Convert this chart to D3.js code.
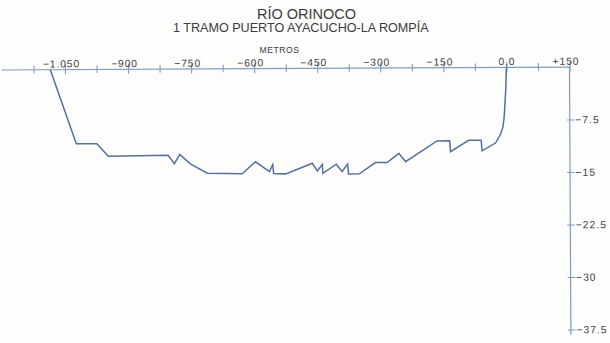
<!DOCTYPE html>
<html>
<head>
<meta charset="utf-8">
<script src="https://cdn.jsdelivr.net/npm/d3@7"></script>
<style>
  html, body { margin: 0; padding: 0; background: #fdfdfc; }
  svg { display: block; }
  text { font-family: "Liberation Sans", Arial, sans-serif; fill: #3b3b3b; }
</style>
</head>
<body>
<svg id="chart" width="610" height="343"></svg>
<script>
// Cross-section of the river bed: distance from the right bank (m) and depth (m)
const distance = [-1085, -1024, -975, -948, -806, -791, -778, -753, -713, -630,
  -598, -565, -557, -555, -526, -463, -451, -439, -438, -406,
  -392, -379, -377, -351, -313, -285, -257, -241, -166, -136,
  -134, -91, -61, -59, -27, -16, -9, -6, -2, 0];
const depth = [0, -10.6, -10.6, -12.4, -12.3, -13.5, -12.2, -13.55, -14.9, -15,
  -13.3, -14.7, -13.7, -15, -15.05, -13.55, -14.65, -13.7, -15, -13.7,
  -14.75, -13.7, -15.1, -15.1, -13.5, -13.5, -12.2, -13.4, -10.45, -10.45,
  -12, -10.4, -10.4, -11.9, -10.8, -9.7, -8.5, -7.1, -3.3, 0];

// Horizontal axis (metres)
const xMajor = [-1050, -900, -750, -600, -450, -300, -150, 0, 150];
const xMajorLabels = ["\u22121.050", "\u2212900", "\u2212750", "\u2212600", "\u2212450", "\u2212300", "\u2212150", "0,0", "+150"];
const xMinor = [-1125, -975, -825, -675, -525, -375, -225, -75, 75];

// Vertical axis (depth, metres)
const yTicks = [-7.5, -15, -22.5, -30, -37.5];
const yTickLabels = ["\u22127.5", "\u221215", "\u221222.5", "\u221230", "\u221237.5"];

const axisColor = "#7d9cc6";
const lineColor = "#5272a3";

const svg = d3.select("#chart");

const x = d3.scaleLinear().domain([-1050, 150]).range([65, 569.5]);
const y = d3.scaleLinear().domain([0, -37.5]).range([68.5, 331]);

// Titles
svg.append("text").attr("x", 306.5).attr("y", 19.3)
  .attr("text-anchor", "middle").style("font-size", "14.5px")
  .text("RÍO ORINOCO");
svg.append("text").attr("x", 300.8).attr("y", 32.3)
  .attr("text-anchor", "middle").style("font-size", "12.6px")
  .text("1 TRAMO PUERTO AYACUCHO-LA ROMPÍA");
svg.append("text").attr("x", 279.5).attr("y", 52.7)
  .attr("text-anchor", "middle").style("font-size", "8.6px")
  .style("letter-spacing", "0.5px")
  .text("METROS");

const g = svg.append("g").attr("transform", "rotate(-0.3, 290, 68.5)");

// Top axis line, running past the last labelled tick on the left
g.append("line")
  .attr("x1", x(-1200)).attr("x2", x(150))
  .attr("y1", y(0)).attr("y2", y(0))
  .attr("stroke", axisColor).attr("stroke-width", 1.2);

// Major ticks with labels
const topAxis = d3.axisTop(x).tickValues(xMajor).tickSize(0)
  .tickFormat((d, i) => xMajorLabels[i]);
const gTop = g.append("g").attr("transform", `translate(0,${y(0)})`).call(topAxis);
gTop.select(".domain").remove();
gTop.selectAll(".tick line")
  .attr("y1", -5.5).attr("y2", 4.5)
  .attr("stroke", axisColor).attr("stroke-width", 1.1);
gTop.selectAll(".tick text")
  .attr("y", -2.3).attr("dy", 0)
  .attr("x", (d, i) => xMajorLabels[i].startsWith("\u2212") || xMajorLabels[i].startsWith("+") ? -4 : 0)
  .style("font-family", "'Liberation Sans', Arial, sans-serif")
  .style("font-size", "10.3px")
  .style("letter-spacing", "0.9px")
  .attr("fill", "#3b3b3b");

// Minor ticks
const minorAxis = d3.axisTop(x).tickValues(xMinor).tickSize(0).tickFormat("");
const gMinor = g.append("g").attr("transform", `translate(0,${y(0)})`).call(minorAxis);
gMinor.select(".domain").remove();
gMinor.selectAll(".tick line")
  .attr("y1", -4).attr("y2", 3.5)
  .attr("stroke", axisColor).attr("stroke-width", 1.1);

// Right depth axis
g.append("line")
  .attr("x1", x(150)).attr("x2", x(150))
  .attr("y1", y(0)).attr("y2", y(-38.2))
  .attr("stroke", axisColor).attr("stroke-width", 1.2);
const rightAxis = d3.axisRight(y).tickValues(yTicks).tickSize(0)
  .tickFormat((d, i) => yTickLabels[i]);
const gRight = g.append("g").attr("transform", `translate(${x(150)},0)`).call(rightAxis);
gRight.select(".domain").remove();
gRight.selectAll(".tick line")
  .attr("x1", -3).attr("x2", 4.5)
  .attr("stroke", axisColor).attr("stroke-width", 1.1);
gRight.selectAll(".tick text")
  .attr("x", 5.5)
  .style("font-family", "'Liberation Sans', Arial, sans-serif")
  .style("font-size", "10.3px")
  .style("letter-spacing", "1px")
  .attr("fill", "#3b3b3b");

// River-bed profile
const profile = distance.map((d, i) => [d, depth[i]]);
const line = d3.line().x(d => x(d[0])).y(d => y(d[1]));
g.append("path")
  .datum(profile)
  .attr("d", line)
  .attr("fill", "none")
  .attr("stroke", lineColor)
  .attr("stroke-width", 1.5)
  .attr("stroke-linejoin", "miter");
</script>
</body>
</html>
